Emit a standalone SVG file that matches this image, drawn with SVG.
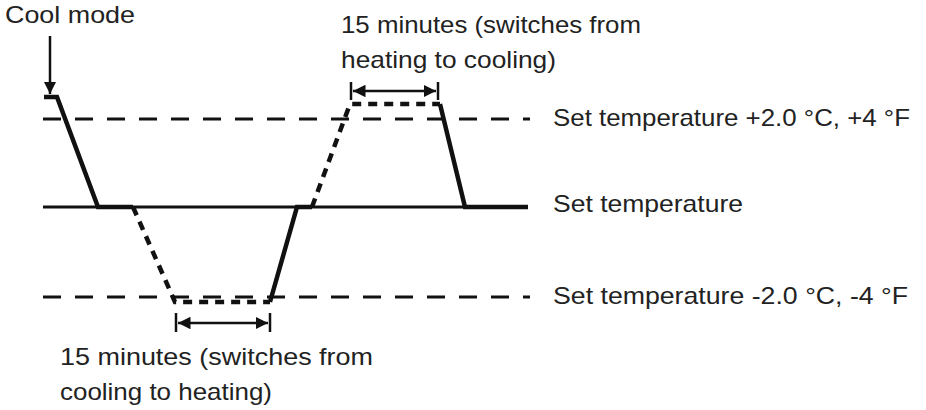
<svg xmlns="http://www.w3.org/2000/svg" width="926" height="410" viewBox="0 0 926 410">
<style>
text{font-family:"Liberation Sans",Arial,sans-serif;font-size:24px;fill:#222}
.ref{stroke:#111;stroke-width:3;fill:none;stroke-dasharray:18 14}
.base{stroke:#111;stroke-width:3;fill:none}
.thick{stroke:#111;stroke-width:4.5;fill:none;stroke-linejoin:miter}
.dot{stroke:#111;stroke-width:4.5;fill:none;stroke-dasharray:9 7}
.dim{stroke:#111;stroke-width:2.5;fill:none}
</style>
<defs>
<marker id="ah" viewBox="0 0 10 10" refX="10" refY="5" markerWidth="5" markerHeight="5" orient="auto-start-reverse"><path d="M0,0L10,5L0,10z" fill="#111"/></marker>
</defs>
<g id="lines">
<line class="ref" x1="43" y1="119" x2="530" y2="119"/>
<line class="base" x1="43" y1="207" x2="528" y2="207"/>
<line class="ref" x1="43" y1="297" x2="530" y2="297"/>
</g>
<g id="connectors">
<polyline class="thick" points="44,97 57,97 98,207 133,207"/>
<polyline class="dot" points="133,207 175,302 270,302"/>
<polyline class="thick" points="270,302 297,207 312,207"/>
<polyline class="dot" points="312,207 350,104 440,104"/>
<polyline class="thick" points="440,104 465,207 528,207"/>
<line class="dim" x1="50" y1="36" x2="50" y2="94" marker-end="url(#ah)"/>
<line class="dim" x1="176" y1="313" x2="176" y2="332"/>
<line class="dim" x1="270" y1="313" x2="270" y2="332"/>
<line class="dim" x1="178" y1="323" x2="268" y2="323" marker-start="url(#ah)" marker-end="url(#ah)"/>
<line class="dim" x1="351" y1="82" x2="351" y2="100"/>
<line class="dim" x1="438" y1="82" x2="438" y2="100"/>
<line class="dim" x1="353" y1="91" x2="436" y2="91" marker-start="url(#ah)" marker-end="url(#ah)"/>
</g>
<g id="labels">
<text x="5" y="23" textLength="130" lengthAdjust="spacingAndGlyphs">Cool mode</text>
<text x="341" y="33" textLength="300" lengthAdjust="spacingAndGlyphs">15 minutes (switches from</text>
<text x="341" y="68" textLength="215" lengthAdjust="spacingAndGlyphs">heating to cooling)</text>
<text x="553" y="126" textLength="357" lengthAdjust="spacingAndGlyphs">Set temperature +2.0 °C, +4 °F</text>
<text x="553" y="212" textLength="190" lengthAdjust="spacingAndGlyphs">Set temperature</text>
<text x="553" y="304" textLength="355" lengthAdjust="spacingAndGlyphs">Set temperature -2.0 °C, -4 °F</text>
<text x="60" y="365" textLength="313" lengthAdjust="spacingAndGlyphs">15 minutes (switches from</text>
<text x="60" y="400" textLength="212" lengthAdjust="spacingAndGlyphs">cooling to heating)</text>
</g>
</svg>
